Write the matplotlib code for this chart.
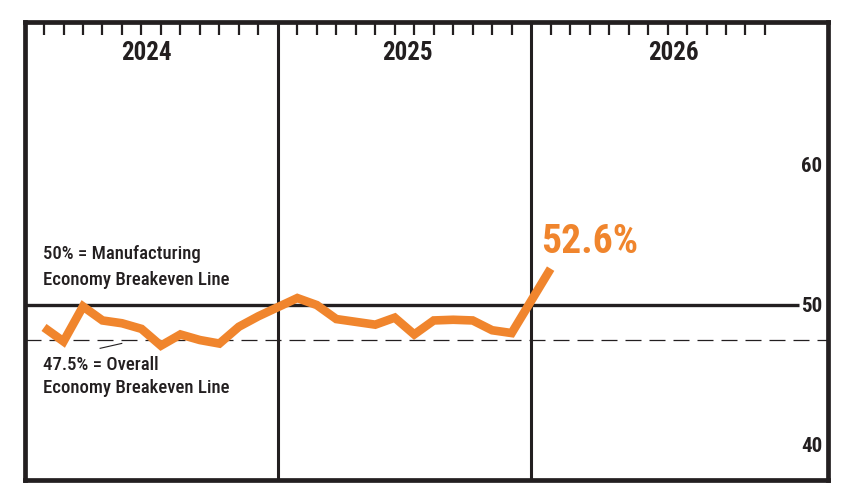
import matplotlib
matplotlib.use("Agg")
import matplotlib.pyplot as plt

# PMI readings, Jan 2024 .. Jan 2026
years = ["2024", "2025", "2026"]
pmi_2024 = [48.4, 47.4, 49.9, 48.9, 48.7, 48.3, 47.1, 47.9, 47.5, 47.25, 48.45, 49.2]
pmi_2025 = [50.5, 50.0, 49.0, 48.8, 48.6, 49.1, 47.9, 48.9, 48.95, 48.9, 48.2, 48.0]
pmi_2026 = [52.6]
y_ticks = [40, 50, 60]
mfg_breakeven = 50
overall_breakeven = 47.5
latest_label = "52.6%"

DARK = "#231F20"
ORANGE = "#F0852D"
NARROW = ["Nimbus Sans Narrow", "Roboto Condensed", "Archivo Narrow",
          "IBM Plex Sans Condensed", "DejaVu Sans"]

# each year is 13 slots wide, months sit on slots 1..12
SLOT = 13
xs, ys = [], []
for i, vals in enumerate([pmi_2024, pmi_2025, pmi_2026]):
    for m, v in enumerate(vals):
        xs.append(i * SLOT + m + 1)
        ys.append(v)

fig = plt.figure(figsize=(8.46, 4.95), dpi=100)
ax = fig.add_axes([0.029, 0.0313, 0.9503, 0.9249])
ax.set_xlim(0, 41.26)
ax.set_ylim(37.54, 70.24)

for s in ax.spines.values():
    s.set_linewidth(3.4)
    s.set_color(DARK)

# month ticks along the top
month_ticks = [i * SLOT + m for i in range(3) for m in range(1, 13)]
ax.set_xticks(month_ticks)
ax.tick_params(axis="x", which="both", top=True, bottom=False, direction="in",
               length=9.6, width=1.6, color=DARK, labelbottom=False, labeltop=False)
ax.set_yticks([])

# year dividers
for i in range(1, 3):
    ax.axvline(i * SLOT, color=DARK, lw=2.2, zorder=2)

# breakeven lines
ax.plot([0, 39.75], [mfg_breakeven, mfg_breakeven], color=DARK, lw=2.4, zorder=2,
        solid_capstyle="butt")
ax.axhline(overall_breakeven, color=DARK, lw=0.9, linestyle=(0, (12.8, 6.4)), zorder=2)

# PMI line
ax.plot(xs, ys, color=ORANGE, lw=6.2, solid_joinstyle="miter", solid_capstyle="butt",
        zorder=3)

# year labels
year_x = [6.25, 19.65, 33.3]
for x, lab in zip(year_x, years):
    ax.text(x, 68.0, lab, ha="center", va="center", fontsize=18, fontweight="bold",
            family=NARROW, color=DARK)

# right side value labels
for t in y_ticks:
    ax.text(40.93, t - 0.08, str(t), ha="right", va="center", fontsize=15,
            fontweight="bold", family=NARROW, color=DARK)

# annotations
note_kw = dict(ha="left", va="baseline", fontsize=13.5, fontweight=500,
               family=NARROW, color=DARK)
ax.text(0.97, 53.32, "50% = Manufacturing", **note_kw)
ax.text(0.97, 51.43, "Economy Breakeven Line", **note_kw)
ax.text(0.97, 45.36, "47.5% = Overall", **note_kw)
ax.text(0.97, 43.71, "Economy Breakeven Line", **note_kw)
ax.plot([3.88, 4.99], [46.91, 47.26], color=DARK, lw=0.8)

ax.text(26.53, 53.71, latest_label, ha="left", va="baseline", fontsize=28.5,
        fontweight="bold", family=NARROW, color=ORANGE)

fig.savefig("out.png", dpi=100)
